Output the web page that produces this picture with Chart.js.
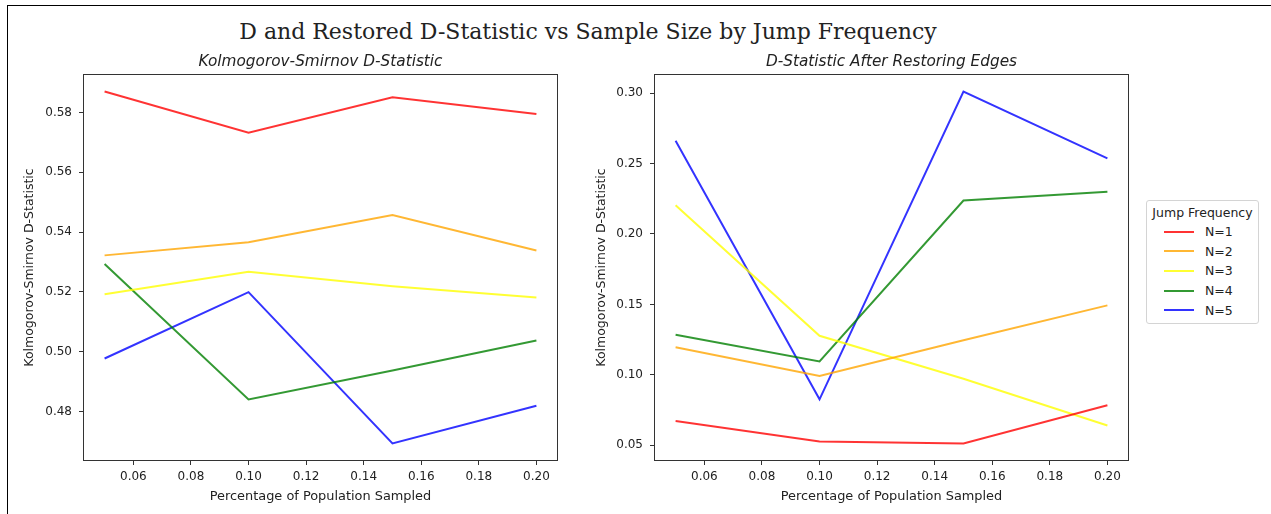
<!DOCTYPE html>
<html>
<head>
<meta charset="utf-8">
<title>D and Restored D-Statistic vs Sample Size</title>
<script src="https://cdn.jsdelivr.net/npm/chart.js@4.4.0/dist/chart.umd.min.js"></script>
<style>
  body { margin: 0; background: #fff; font-family: "DejaVu Sans", sans-serif; color: #222; }
  #frame { position: absolute; left: 7px; top: 5px; width: 1264px; height: 509px;
           border-left: 1px solid #000; border-top: 1px solid #000; }
  #suptitle { position: absolute; left: 0; top: 21.4px; width: 1176px; text-align: center;
              font-family: "DejaVu Serif", serif; font-size: 22px; line-height: 22px; color: #222; }
  canvas { position: absolute; top: 0; }
  #ksChart { left: 0; }
  #restoredChart { left: 580px; }
  #legend { position: absolute; left: 1146px; top: 200px; width: 113px; height: 124px; box-sizing: border-box;
            border: 1px solid #d4d4d4; border-radius: 3px; background: #fff; z-index: 2; font-size: 12.5px; }
  #legend .lg-title { position: absolute; left: 0; width: 100%; text-align: center; top: 4px; line-height: 15px; }
  #legend .lg-line { position: absolute; left: 17px; width: 30px; height: 2px; }
  #legend .lg-label { position: absolute; left: 58px; line-height: 15px; }
</style>
</head>
<body>
<div id="frame"></div>
<div id="suptitle">D and Restored D-Statistic vs Sample Size by Jump Frequency</div>
<canvas id="ksChart" width="641" height="514"></canvas>
<canvas id="restoredChart" width="623" height="514"></canvas>
<div id="legend"></div>

<script>
// sample fractions on the x axis
const samplePct = [0.05, 0.10, 0.15, 0.20];
const xTicks = [0.06, 0.08, 0.10, 0.12, 0.14, 0.16, 0.18, 0.20];

const seriesLabels = ['N=1', 'N=2', 'N=3', 'N=4', 'N=5'];
const seriesColors = ['rgba(255,0,0,0.8)', 'rgba(255,165,0,0.8)', 'rgba(255,255,0,0.8)',
                      'rgba(0,128,0,0.8)', 'rgba(0,0,255,0.8)'];

// Kolmogorov-Smirnov D per jump frequency
const ksN1 = [0.5870, 0.5732, 0.5851, 0.5795];
const ksN2 = [0.5322, 0.5366, 0.5457, 0.5338];
const ksN3 = [0.5192, 0.5267, 0.5219, 0.5181];
const ksN4 = [0.5293, 0.4840, 0.4937, 0.5037];
const ksN5 = [0.4977, 0.5199, 0.4693, 0.4819];
const ksTicks = [0.48, 0.50, 0.52, 0.54, 0.56, 0.58];

// D after restoring edges
const restoredN1 = [0.0672, 0.0527, 0.0513, 0.0784];
const restoredN2 = [0.1196, 0.0991, 0.1246, 0.1493];
const restoredN3 = [0.2203, 0.1277, 0.0972, 0.0640];
const restoredN4 = [0.1284, 0.1095, 0.2237, 0.2300];
const restoredN5 = [0.2662, 0.0826, 0.3011, 0.2537];
const restoredTicks = [0.05, 0.10, 0.15, 0.20, 0.25, 0.30];

const FONT = 'DejaVu Sans';
const TEXT = '#222';
const EDGE = '#333';

// frame around the plotting area, drawn over the lines like matplotlib spines
const axesBox = {
  id: 'axesBox',
  afterDatasetsDraw(chart) {
    const a = chart.chartArea;
    const ctx = chart.ctx;
    ctx.save();
    ctx.strokeStyle = EDGE;
    ctx.lineWidth = 1;
    const l = Math.round(a.left) + 0.5, t = Math.round(a.top) + 0.5;
    const r = Math.round(a.right) - 0.5, b = Math.round(a.bottom) - 0.5;
    ctx.strokeRect(l, t, r - l, b - t);
    ctx.restore();
  }
};

function buildChart(canvasId, title, seriesList, yTicks, yAxisWidth, yTitlePad) {
  const all = seriesList.flat();
  const lo = Math.min(...all), hi = Math.max(...all);
  const yPad = (hi - lo) * 0.05;
  const xLo = samplePct[0], xHi = samplePct[samplePct.length - 1];
  const xPad = (xHi - xLo) * 0.05;

  return new Chart(document.getElementById(canvasId), {
    type: 'line',
    data: {
      datasets: seriesList.map((vals, i) => ({
        label: seriesLabels[i],
        data: vals.map((v, j) => ({ x: samplePct[j], y: v })),
        borderColor: seriesColors[i],
        backgroundColor: seriesColors[i],
        borderWidth: 2,
        pointRadius: 0,
        tension: 0,
        fill: false
      }))
    },
    options: {
      responsive: false,
      animation: false,
      events: [],
      layout: { padding: { left: 0, right: yAxisWidth, top: 0, bottom: 0 } },
      plugins: {
        legend: { display: false },
        tooltip: { enabled: false },
        title: {
          display: true,
          fullSize: false,
          text: title,
          color: TEXT,
          font: { family: FONT, size: 15.3, style: 'italic', weight: 'normal' },
          padding: { top: 52.8, bottom: 2.8 }
        }
      },
      scales: {
        x: {
          type: 'linear',
          min: xLo - xPad,
          max: xHi + xPad,
          afterFit: s => { s.height = 53; },
          afterBuildTicks: s => { s.ticks = xTicks.map(v => ({ value: v })); },
          grid: { display: true, drawOnChartArea: false, tickLength: 4, tickColor: EDGE },
          border: { display: false },
          ticks: {
            color: TEXT, padding: 5, autoSkip: false, maxRotation: 0,
            font: { family: FONT, size: 12 },
            callback: v => Number(v).toFixed(2)
          },
          title: {
            display: true, text: 'Percentage of Population Sampled', color: TEXT,
            font: { family: FONT, size: 12.9 }, padding: { top: 0, bottom: 9.5 }
          }
        },
        y: {
          min: lo - yPad,
          max: hi + yPad,
          afterFit: s => { s.width = yAxisWidth; },
          afterBuildTicks: s => { s.ticks = yTicks.map(v => ({ value: v })); },
          grid: { display: true, drawOnChartArea: false, tickLength: 4, tickColor: EDGE },
          border: { display: false },
          ticks: {
            color: TEXT, padding: 7, autoSkip: false,
            font: { family: FONT, size: 12 },
            callback: v => Number(v).toFixed(2)
          },
          title: {
            display: true, text: 'Kolmogorov-Smirnov D-Statistic', color: TEXT,
            font: { family: FONT, size: 12.5 }, padding: { top: yTitlePad, bottom: 0 }
          }
        }
      }
    },
    plugins: [axesBox]
  });
}

buildChart('ksChart', 'Kolmogorov-Smirnov D-Statistic',
  [ksN1, ksN2, ksN3, ksN4, ksN5], ksTicks, 83, 22.5);
buildChart('restoredChart', 'D-Statistic After Restoring Edges',
  [restoredN1, restoredN2, restoredN3, restoredN4, restoredN5], restoredTicks, 74, 14.5);

// legend for the jump frequencies
const legend = document.getElementById('legend');
const lgTitle = document.createElement('div');
lgTitle.className = 'lg-title';
lgTitle.textContent = 'Jump Frequency';
legend.appendChild(lgTitle);
seriesLabels.forEach((label, i) => {
  const cy = 30.5 + i * 19.7;
  const line = document.createElement('div');
  line.className = 'lg-line';
  line.style.top = (cy - 1) + 'px';
  line.style.background = seriesColors[i];
  const text = document.createElement('div');
  text.className = 'lg-label';
  text.style.top = (cy - 7.5) + 'px';
  text.textContent = label;
  legend.appendChild(line);
  legend.appendChild(text);
});
</script>
</body>
</html>
